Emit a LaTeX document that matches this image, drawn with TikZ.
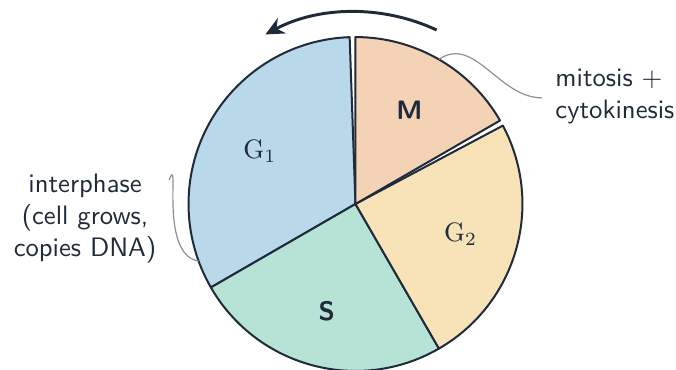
\documentclass[tikz,border=0pt]{standalone}
\usetikzlibrary{arrows.meta}
\definecolor{ink}{HTML}{1F2A3A}
\definecolor{leadgray}{HTML}{8C9098}
\definecolor{gonecol}{HTML}{B9D8E9}
\definecolor{mcol}{HTML}{F3D2B6}
\definecolor{gtwocol}{HTML}{F8E3B9}
\definecolor{scol}{HTML}{B7E3D7}
\begin{document}
\begin{tikzpicture}[font=\sffamily, text=ink,
  wedge/.style={draw=ink, line width=0.75pt, line join=round},
  lead/.style={draw=leadgray, line width=0.45pt},
  boldlab/.style={font=\sffamily\bfseries}]
\useasboundingbox (-133.3pt,-61.9pt) rectangle (120.2pt,76.5pt);
\coordinate (c) at (0,0);
% wedges
\filldraw[wedge, fill=gonecol] (c) -- (92:62.6pt) arc[start angle=92, end angle=210, radius=62.6pt] -- cycle;
\filldraw[wedge, fill=scol] (c) -- (210:62.6pt) arc[start angle=210, end angle=300, radius=62.6pt] -- cycle;
\filldraw[wedge, fill=gtwocol] (c) -- (300:62.6pt) arc[start angle=300, end angle=388, radius=62.6pt] -- cycle;
\filldraw[wedge, fill=mcol] (c) -- (30:62.6pt) arc[start angle=30, end angle=90, radius=62.6pt] -- cycle;
% labels
\node (g1) at (151:41pt) {$\mathrm{G}_1$};
\node[boldlab] (s) at (255:41.5pt) {S};
\node (g2) at (-16:41pt) {$\mathrm{G}_2$};
\node[boldlab] (m) at (60:40.5pt) {M};
% cycle arrow
\coordinate (arrA) at (65:72pt);
\draw[ink, line width=1.1pt, -{Stealth[length=7pt,width=6.5pt]}] (arrA) arc[start angle=65, end angle=118, radius=72pt];
% side texts
\node[align=center] (inter) at (-101.4pt,-5.4pt) {interphase\\(cell grows,\\copies DNA)};
\node[align=left, anchor=west, inner sep=0pt] (mit) at (74.8pt,40.3pt) {mitosis +\\cytokinesis};
% leaders
\coordinate (mA) at (60:62.6pt);
\draw[lead] (mA) to[out=35,in=180] ([xshift=-4.9pt,yshift=-0.5pt]mit.west);
\coordinate (iA) at (200:62.6pt);
\coordinate (iE) at (-69.9pt,9pt);
\draw[lead] (iA) .. controls (-74pt,-19pt) and (-65.5pt,20pt) .. (iE);
\end{tikzpicture}
\end{document}
